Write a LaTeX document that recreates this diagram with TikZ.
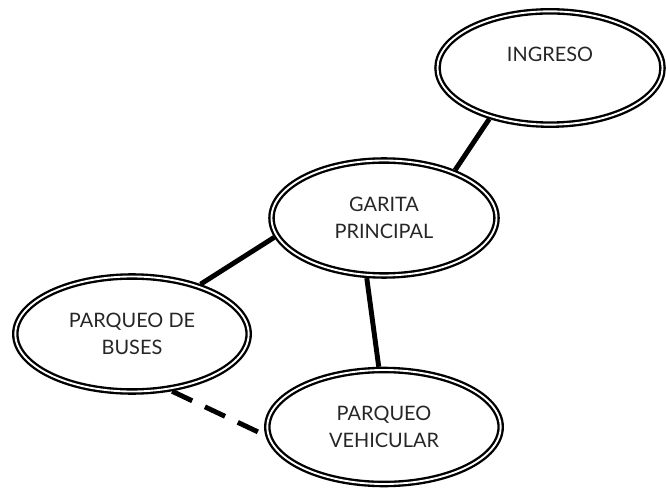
\documentclass[tikz,border=0pt]{standalone}
\usepackage{fontspec}
\setmainfont{Lato}
\usetikzlibrary{positioning, shapes}

\begin{document}
\begin{tikzpicture}[x=0.03cm, y=0.03cm, auto, on grid,
    zona/.style = {ellipse, draw, double=white, line width=2pt, double distance=1.6pt,
      minimum width=7cm, minimum height=3.45cm, inner sep=0pt, outer sep=2.8pt,
      align=center, font=\fontsize{17}{23}\selectfont, text=black!85},
    enlace/.style = {line width=4.2pt},
    enlace rayado/.style = {enlace, dash pattern=on 19pt off 12pt}]
            \useasboundingbox (0,0) rectangle (666,-489);
            \node[zona, minimum width=6.75cm] (garita) at (384,-218) {GARITA\\PRINCIPAL};
            \node[zona, minimum width=6.75cm, minimum height=3.4cm] (ingreso) [above right = 4.5cm and 4.98cm of garita] {INGRESO\\\mbox{}};
            \node[zona] (buses) [below left = 3.48cm and 7.56cm of garita] {PARQUEO DE\\BUSES};
            \node[zona, minimum height=3.42cm] (vehicular) [below = 6.27cm of garita] {PARQUEO\\VEHICULAR};

            \path[enlace]
              (ingreso.220) edge (garita.34)
              (garita.190) edge (buses.36)
              (garita.254) edge (vehicular.95)
              (buses.305) edge[enlace rayado] (vehicular.184)
            ;
          \end{tikzpicture}
\end{document}
